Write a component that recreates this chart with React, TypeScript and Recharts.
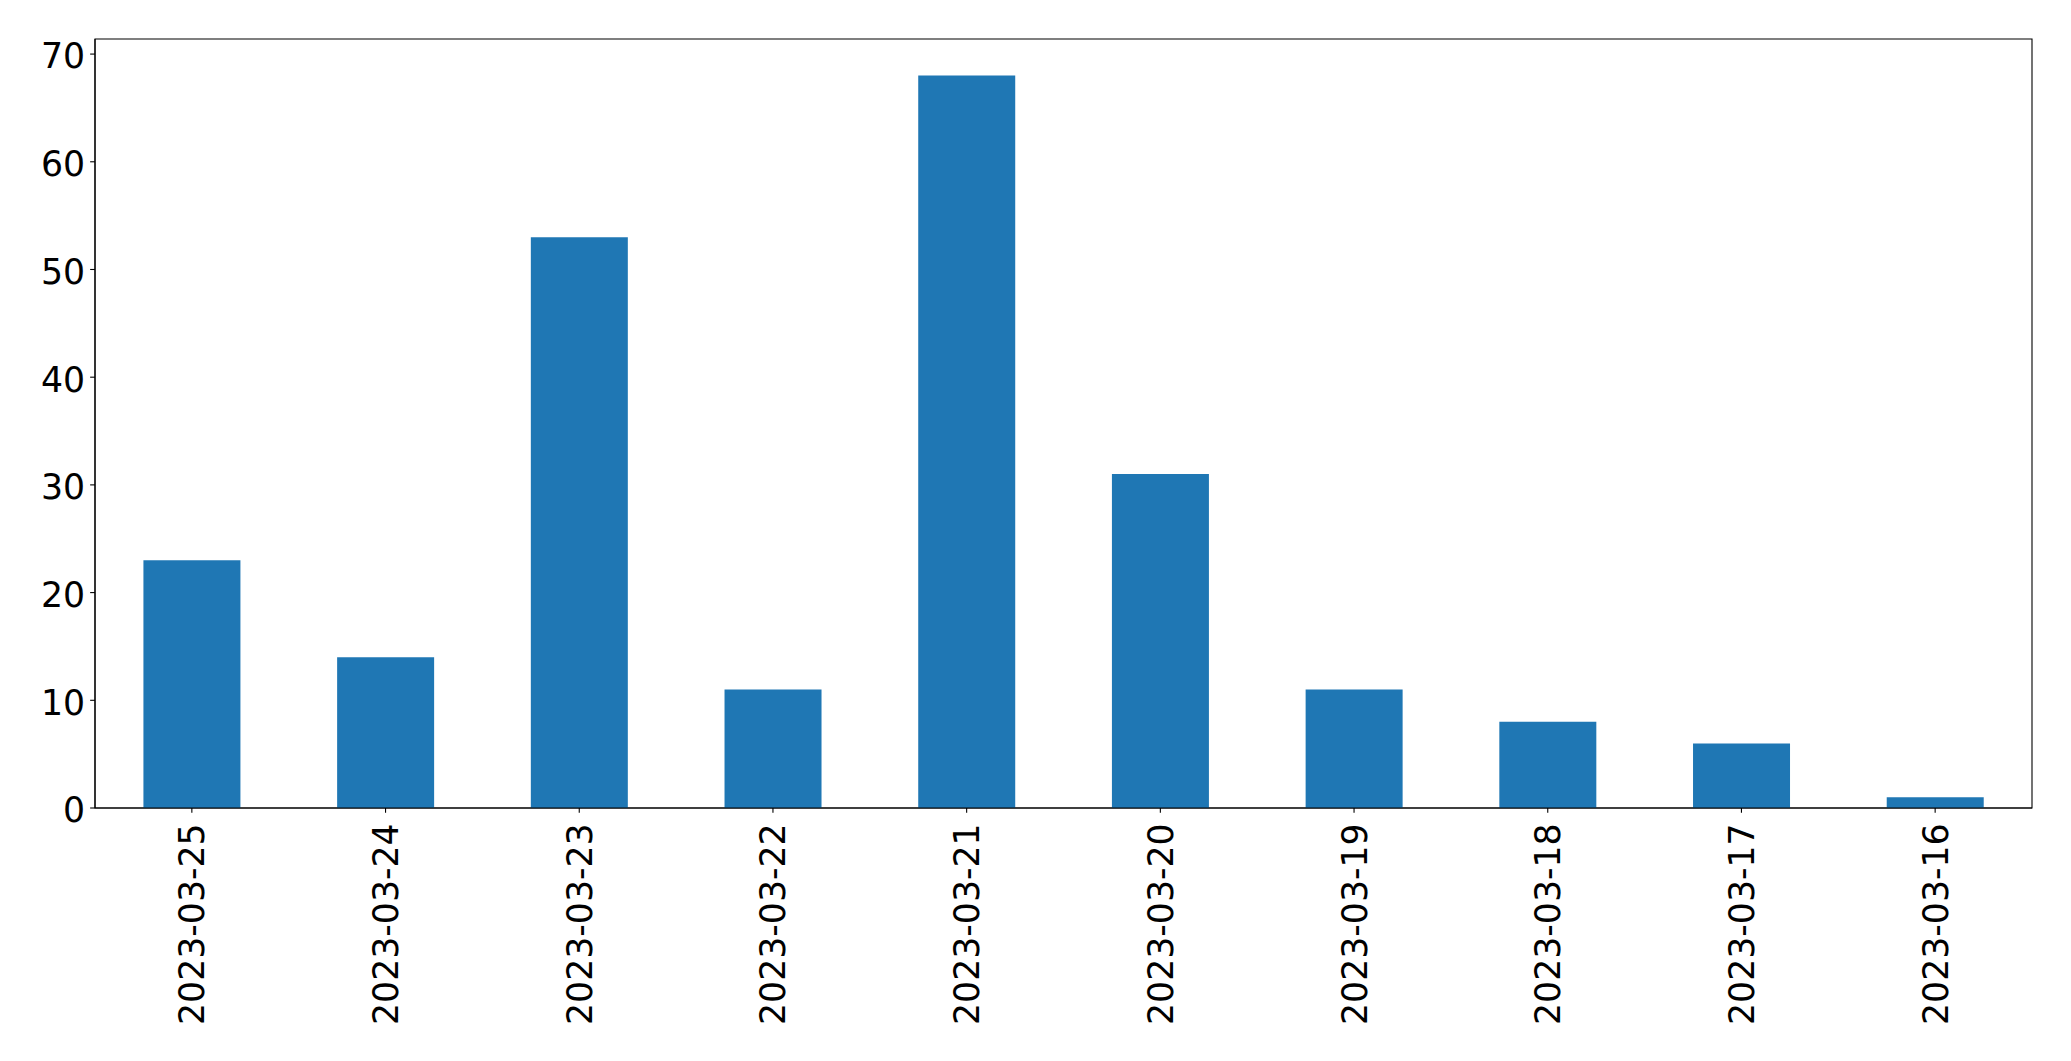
import { BarChart, Bar, XAxis, YAxis, ReferenceArea } from 'recharts';

const dates = [
  '2023-03-25', '2023-03-24', '2023-03-23', '2023-03-22', '2023-03-21',
  '2023-03-20', '2023-03-19', '2023-03-18', '2023-03-17', '2023-03-16',
];
const counts = [23, 14, 53, 11, 68, 31, 11, 8, 6, 1];
const yTicks = [0, 10, 20, 30, 40, 50, 60, 70];

const FONT = 'DejaVu Sans';
const FS = 34.7;

const DateTick = (props: any) => {
  const { x, y, payload } = props;
  return (
    <g transform={`translate(${x},${y})`}>
      <text
        transform="rotate(-90)"
        textAnchor="end"
        dy="0.36em"
        style={{ fontFamily: FONT, fontSize: `${FS}px` }}
        fill="#000"
      >
        {payload.value}
      </text>
    </g>
  );
};

const NumTick = (props: any) => {
  const { x, y, payload } = props;
  return (
    <text
      x={x}
      y={y}
      textAnchor="end"
      dy="0.415em"
      style={{ fontFamily: FONT, fontSize: `${FS}px` }}
      fill="#000"
    >
      {payload.value}
    </text>
  );
};

export default function App() {
  const data = dates.map((d, i) => ({ date: d, count: counts[i] }));

  return (
    <div style={{ position: 'absolute', left: 0, top: 0, background: '#fff' }}>
      <BarChart
        width={2071}
        height={1061}
        data={data}
        margin={{ top: 39, right: 39, bottom: 0, left: 0 }}
        barCategoryGap="25%"
      >
        <XAxis
          dataKey="date"
          height={253}
          tick={<DateTick />}
          tickSize={4.86}
          tickMargin={10.5}
          interval={0}
          axisLine={{ stroke: '#000', strokeWidth: 1.1 }}
          tickLine={{ stroke: '#000', strokeWidth: 1.1 }}
        />
        <YAxis
          width={95}
          domain={[0, 71.4]}
          ticks={yTicks}
          interval={0}
          tickSize={4.86}
          tickMargin={5}
          tick={<NumTick />}
          axisLine={{ stroke: '#000', strokeWidth: 1.1 }}
          tickLine={{ stroke: '#000', strokeWidth: 1.1 }}
        />
        <Bar dataKey="count" fill="#1f77b4" isAnimationActive={false} />
        <ReferenceArea
          x1={dates[0]}
          x2={dates[dates.length - 1]}
          y1={0}
          y2={71.4}
          fill="none"
          fillOpacity={0}
          stroke="#000"
          strokeWidth={1.1}
          strokeOpacity={1}
        />
      </BarChart>
    </div>
  );
}
